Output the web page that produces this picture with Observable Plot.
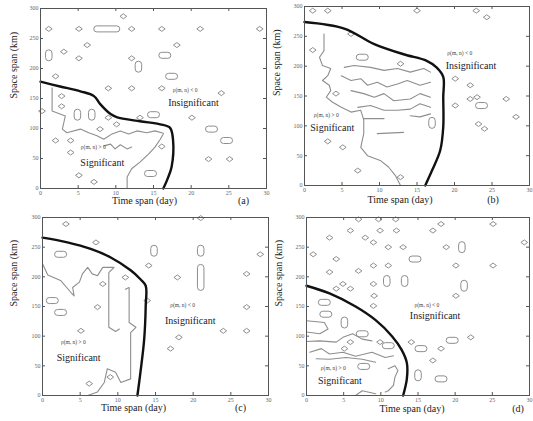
<!DOCTYPE html>
<html><head><meta charset="utf-8">
<script src="https://cdn.jsdelivr.net/npm/d3@7"></script>
<script src="https://cdn.jsdelivr.net/npm/@observablehq/plot@0.6"></script>
<style>
body{margin:0;background:#fff;}
#root{position:relative;width:533px;height:421px;overflow:hidden;background:#fff;font-family:"Liberation Serif",serif;}
#root svg{position:absolute;overflow:visible;}
</style></head><body><div id="root"></div>
<script>
// ---------- shared axis values ----------
const xTicks = [0, 5, 10, 15, 20, 25, 30];
const yTicks = [0, 50, 100, 150, 200, 250, 300];
const xTitle = "Time span (day)";
const yTitle = "Space span (km)";
const lessLabel = "ρ(m, n) < 0";
const moreLabel = "ρ(m, n) > 0";
const insigLabel = "Insignificant";
const sigLabel = "Significant";
const panelLetters = ["(a)", "(b)", "(c)", "(d)"];

// ---------- panel (a) ----------
const aBoundary = [[0,178],[2.6,170],[5.3,162],[7.1,154],[7.9,141],[9.3,124],[10.1,119],[13.2,112],[15.9,107],[17.2,101],[17.6,80],[17.4,36],[16.8,14],[16.3,0]];
const aDiamonds = [[11,287],[1.1,266],[5.1,266],[12.1,266],[16.1,266],[21.2,266],[29.1,266],[6.2,239],[18.1,239],[3.1,228],[5.1,217],[12.1,217],[2,187],[9,167],[12.1,167],[16.1,167],[24,159],[2.8,154],[2.8,137],[9,118],[13.2,118],[20.1,118],[10.1,107],[7.9,99],[2,80],[4,80],[4,60],[5.1,22],[7.1,11],[16.1,70],[22.3,49],[25.1,49],[0.2,129]];
const aHEll = [[17.4,187],[22.7,99],[24.7,80],[16.5,222],[15,123],[14.6,25]];
const aVEll = [[1.1,222],[13,203],[4.9,123],[6.8,123]];
const aWide = [[8.8,266]];
const aTall = [];
const aContours = [
  [[1.54,168],[1.54,129],[3.3,121],[3.1,110],[2.9,99],[3.5,93],[5.3,99],[6.4,93],[7.5,88],[8.4,82],[9.5,91],[10.6,96],[11.7,91],[12.8,96],[14.1,93],[15.2,96],[16.3,92]],
  [[11.5,0],[11.5,19],[12.1,33],[13.2,44],[14.3,57],[15.2,69],[15.9,82],[16.3,91]],
  [[8.4,71],[9.3,74],[9.9,66],[10.6,73],[11.5,66],[12.1,69]]
];
const aText = {less:[19.2,163], insig:[20.3,143], more:[7.0,68], sig:[8.2,43]};

// ---------- panel (b) ----------
const bBoundary = [[0,274],[5.3,263],[9.3,237],[13.2,220],[16.3,209],[17.6,198],[18.5,182],[18.5,148],[18.5,98],[18.1,59],[17,25],[16.1,0]];
const bDiamonds = [[1.1,293],[3.1,293],[15,293],[22.9,293],[24.3,282],[1.1,227],[6.2,254],[12.8,204],[20.1,179],[22.1,168],[23,148],[4.2,154],[20.1,134],[22.1,145],[26.9,145],[28.2,115],[23.2,103],[24,95],[3.1,74],[5.1,64],[7.1,25],[12.8,14]];
const bHEll = [[7.7,215],[23.6,134]];
const bVEll = [[17.0,105]];
const bWide = [];
const bTall = [];
const bContours = [
  [[2.6,254],[2.6,226],[2.0,215],[2.4,201],[3.5,196],[3.1,184],[2.4,176],[3.3,168],[3.5,159],[2.9,148],[3.7,140],[4.9,131],[6.2,123],[7.5,126],[7.9,110],[7.9,87],[7.5,64],[8.4,50],[10.1,42],[11.2,31],[12.1,17],[12.8,0]],
  [[5.3,198],[6.6,201],[8.8,198],[10.6,193],[12.4,196],[14.1,190],[15.9,196],[16.8,190]],
  [[4.9,184],[6.2,176],[7.5,179],[8.4,168],[9.7,173],[11,165],[12.4,170],[13.7,176],[15.4,168],[16.8,173]],
  [[6.2,159],[7.9,154],[9.3,148],[10.6,154],[11.9,142],[14.1,145],[15.4,154],[16.8,148]],
  [[7.1,131],[8.8,134],[10.6,126],[12.4,126],[14.1,128],[15.4,137],[16.8,131]],
  [[7.9,112],[10.6,112]],
  [[9.7,87],[13.2,89]],
  [[14.1,117],[15.4,115],[16.8,120]]
];
const bText = {less:[20.7,221], insig:[22.2,201], more:[2.9,117], sig:[3.7,96]};

// ---------- panel (c) ----------
const cBoundary = [[0,266],[3.3,258],[6.4,247],[9,233],[11.7,211],[13,196],[13.7,185],[13.7,151],[13.5,95],[13,39],[12.6,0]];
const cDiamonds = [[3.1,289],[7.1,258],[28.9,238],[14.1,219],[11,199],[17.9,199],[27.1,205],[8,188],[7.3,149],[13.9,160],[27.1,149],[5.1,109],[18.1,98],[24,109],[27.1,109],[17,79],[9,31],[6.2,20],[21,299]];
const cHEll = [[2.4,238],[1.3,160],[2.4,140]];
const cVEll = [[14.8,244],[21,244]];
const cWide = [];
const cTall = [[21,199]];
const cContours = [
  [[0,222],[0.7,203],[2.4,194],[3.75,174],[4.2,168],[4.0,182],[4.9,191],[5.3,205],[6.0,216],[6.6,205],[7.3,202]],
  [[7.3,202],[8.0,216],[9.5,216],[8.8,207],[8.8,115],[9.7,108],[10.2,112]],
  [[11,179],[11.5,182],[11.5,123],[12.4,115],[11.7,106],[11.7,28],[10.4,22],[9.7,39],[8.6,45],[8.2,22],[7.3,6],[6,0]]
];
const cText = {less:[18.6,152], insig:[19.6,126], more:[4.1,89], sig:[4.8,64]};

// ---------- panel (d) ----------
const dBoundary = [[0,185],[3.1,172],[6.6,150],[9.3,127],[11.5,100],[12.8,77],[13.5,55],[13.5,28],[13,0]];
const dDiamonds = [[7,297],[9.7,297],[12,297],[18.1,289],[25.1,289],[5.9,278],[9.9,278],[12.1,278],[17,278],[3.1,266],[7.9,266],[9,258],[11,250],[13,250],[18.8,250],[29.3,258],[0.9,238],[4,230],[9,219],[11,219],[20.1,219],[25.1,219],[3.1,208],[7,210],[4.9,188],[5.9,180],[4,180],[9,188],[20.1,168],[9.1,168],[9,151],[5.9,90],[5.1,79],[9.9,90],[14.1,90],[18.1,79],[22.1,98],[17,59]];
const dHEll = [[14.6,230],[2.4,157],[2.6,137],[15.4,79],[18.1,28],[7.7,49],[11,84],[19.6,93],[7.5,104]];
const dVEll = [[20.9,250],[10.8,193],[13.2,193],[21.2,185],[5.1,123],[15,34]];
const dWide = [];
const dTall = [];
const dContours = [
  [[0,126],[2.4,123],[2.9,112],[1.8,104],[0,107]],
  [[0,91],[1.8,92],[4.0,90],[4.9,98],[6.2,104],[7.5,95],[8.8,92]],
  [[0.44,73],[2,79],[3.1,70],[4.9,73],[6.6,66],[8.8,73],[10.6,64],[11.7,67]],
  [[1.3,62],[3.1,61],[5.3,64],[7.5,61],[9.3,56]],
  [[11,45],[11.9,50],[12.3,42],[11.9,31],[11.7,17],[11,8],[10.6,6]],
  [[6.6,0],[7.5,8],[9.3,3]]
];
const dText = {less:[16.2,152], insig:[17.3,135], more:[3.6,46], sig:[4.5,25]};

// ---------- symbols (shapes of the small closed contours) ----------
const diamondSym = {draw(c){c.moveTo(-3.4,0);c.lineTo(0,-2.5);c.lineTo(3.4,0);c.lineTo(0,2.5);c.closePath();}};
function capsule(w, h){
  return {draw(c){
    const r = Math.min(w,h)/2;
    if (w >= h){const a=w/2-r; c.moveTo(-a,-r); c.lineTo(a,-r); c.arc(a,0,r,-Math.PI/2,Math.PI/2); c.lineTo(-a,r); c.arc(-a,0,r,Math.PI/2,3*Math.PI/2); c.closePath();}
    else {const a=h/2-r; c.moveTo(r,-a); c.lineTo(r,a); c.arc(0,a,r,0,Math.PI); c.lineTo(-r,-a); c.arc(0,-a,r,Math.PI,2*Math.PI); c.closePath();}
  }};
}
const hEllSym = capsule(12, 6);
const vEllSym = capsule(6.5, 11);
const wideSym = capsule(26, 6);
const tallSym = capsule(6.5, 26);

const GRAY = "#8e8e8e";
function panel(cfg){
  const {left, top, W, H, mL, mR, mT, mB, contours, boundary, diamonds, hEll, vEll, wide, tall, text, letter, xDx, letterDx, titleDy, yDx} = cfg;
  const fw = W - mL - mR, fh = H - mT - mB;
  const lines = contours.flatMap((pts,i)=>pts.map(([x,y])=>({x,y,id:i})));
  const X = d=>d[0], Y = d=>d[1];
  const sym = (data, s) => Plot.dot(data, {x:X, y:Y, symbol:s, r:1, stroke:GRAY, fill:"none", strokeWidth:1});
  const svg = Plot.plot({
    width: W, height: H, marginLeft: mL, marginRight: mR, marginTop: mT, marginBottom: mB,
    x: {domain:[0,30]}, y: {domain:[0,300]},
    style: {background:"transparent", fontFamily:"'Liberation Serif', serif"},
    marks: [
      Plot.line(lines, {x:"x", y:"y", z:"id", stroke:GRAY, strokeWidth:1.1}),
      sym(diamonds, diamondSym), sym(hEll, hEllSym), sym(vEll, vEllSym), sym(wide, wideSym), sym(tall, tallSym),
      Plot.line(boundary, {x:X, y:Y, stroke:"#111", strokeWidth:2.4, curve:"catmull-rom"}),
      Plot.frame({stroke:"#555"}),
      Plot.tickX(xTicks, {x:d=>d, insetTop: fh-3, stroke:"#555"}),
      Plot.tickX(xTicks, {x:d=>d, insetBottom: fh-3, stroke:"#555"}),
      Plot.tickY(yTicks, {y:d=>d, insetRight: fw-3, stroke:"#555"}),
      Plot.tickY(yTicks, {y:d=>d, insetLeft: fw-3, stroke:"#555"}),
      Plot.axisX({ticks: xTicks, tickSize:0, tickPadding:2, fontSize:6, color:"#666", label:null}),
      Plot.axisY({ticks: yTicks, tickSize:0, tickPadding:2, fontSize:6, color:"#666", label:null}),
      Plot.text([lessLabel], {x:()=>text.less[0], y:()=>text.less[1], text:d=>d, fontSize:5.5, fill:"#444"}),
      Plot.text([insigLabel], {x:()=>text.insig[0], y:()=>text.insig[1], text:d=>d, fontSize:10, fill:"#1a1a2a"}),
      Plot.text([moreLabel], {x:()=>text.more[0], y:()=>text.more[1], text:d=>d, fontSize:5.5, fill:"#444"}),
      Plot.text([sigLabel], {x:()=>text.sig[0], y:()=>text.sig[1], text:d=>d, fontSize:10, fill:"#1a1a2a"}),
      Plot.text([xTitle], {frameAnchor:"bottom", text:d=>d, dx:xDx, dy:titleDy, fontSize:10, fill:"#222"}),
      Plot.text([letter], {frameAnchor:"bottom", text:d=>d, dx:letterDx, dy:titleDy, fontSize:10, fill:"#222"}),
      Plot.text([yTitle], {frameAnchor:"left", text:d=>d, rotate:-90, dx:yDx, fontSize:10, fill:"#222"})
    ]
  });
  svg.style.left = left + "px";
  svg.style.top = top + "px";
  document.getElementById("root").appendChild(svg);
}

panel({left:0, top:0, W:270, H:212, mL:40, mR:4, mT:8, mB:24, contours:aContours, boundary:aBoundary, diamonds:aDiamonds, hEll:aHEll, vEll:aVEll, wide:aWide, tall:aTall, text:aText, letter:panelLetters[0], xDx:-9, letterDx:90, titleDy:15, yDx:-27});
panel({left:263, top:0, W:270, H:212, mL:41, mR:4, mT:6, mB:27, contours:bContours, boundary:bBoundary, diamonds:bDiamonds, hEll:bHEll, vEll:bVEll, wide:bWide, tall:bTall, text:bText, letter:panelLetters[1], xDx:-17, letterDx:76, titleDy:17, yDx:-28});
panel({left:0, top:205, W:270, H:216, mL:42, mR:2, mT:12, mB:26, contours:cContours, boundary:cBoundary, diamonds:cDiamonds, hEll:cHEll, vEll:cVEll, wide:cWide, tall:cTall, text:cText, letter:panelLetters[2], xDx:-22, letterDx:85, titleDy:15, yDx:-29});
panel({left:263, top:205, W:270, H:216, mL:43, mR:4, mT:12, mB:26, contours:dContours, boundary:dBoundary, diamonds:dDiamonds, hEll:dHEll, vEll:dVEll, wide:dWide, tall:dTall, text:dText, letter:panelLetters[3], xDx:-6, letterDx:100, titleDy:16, yDx:-28});
</script></body></html>
